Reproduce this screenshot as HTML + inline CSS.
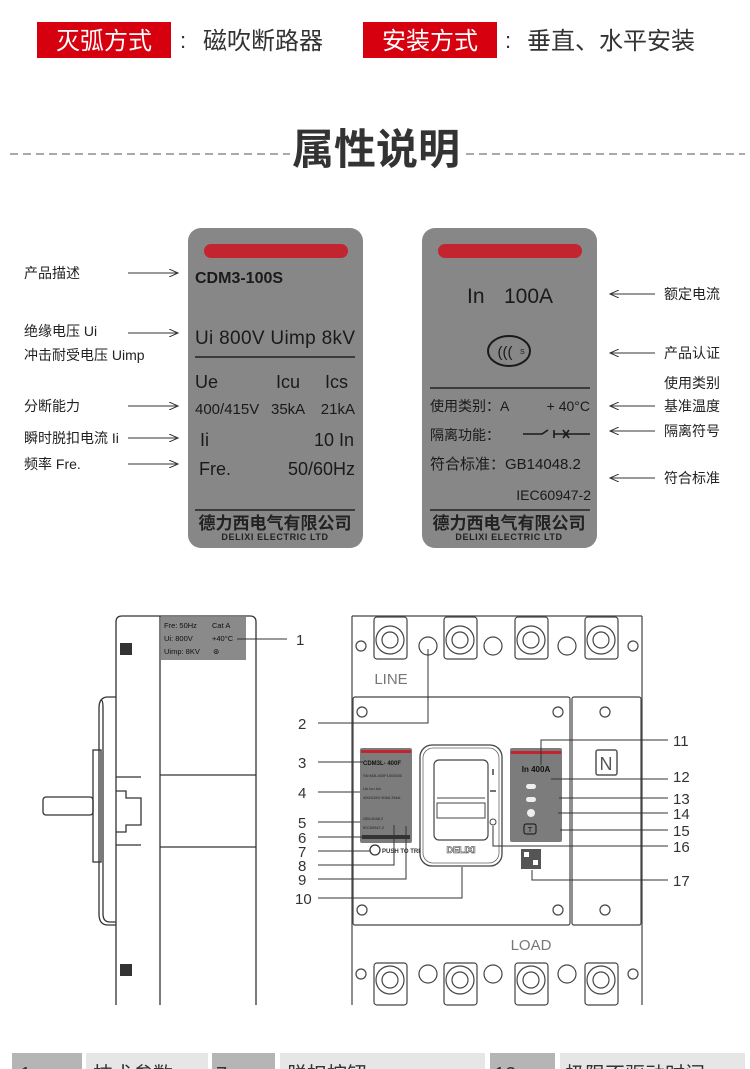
<!DOCTYPE html>
<html><head><meta charset="utf-8"><style>
html,body{margin:0;padding:0;background:#fff;}
body{width:750px;height:1069px;overflow:hidden;position:relative;font-family:"Liberation Sans","Noto Sans CJK SC",sans-serif;}
svg{position:absolute;left:0;top:0;}
text{font-family:"Liberation Sans","Noto Sans CJK SC",sans-serif;}
</style></head><body>
<svg width="750" height="1069" viewBox="0 0 750 1069" xmlns="http://www.w3.org/2000/svg">
<defs>
<marker id="ar" markerWidth="10" markerHeight="8" refX="9" refY="4" orient="auto" markerUnits="userSpaceOnUse"><path d="M0,0 L9,4 L0,8" fill="none" stroke="#333" stroke-width="1"/></marker>
</defs>
<!-- header -->
<rect x="37" y="22" width="134" height="36" fill="#d7000f"/>
<text x="104" y="49" font-size="24" fill="#fff" text-anchor="middle">灭弧方式</text>
<text x="180" y="48" font-size="22" fill="#333">:</text>
<text x="203" y="49" font-size="24" fill="#333">磁吹断路器</text>
<rect x="363" y="22" width="134" height="36" fill="#d7000f"/>
<text x="430" y="49" font-size="24" fill="#fff" text-anchor="middle">安装方式</text>
<text x="505" y="48" font-size="22" fill="#333">:</text>
<text x="527" y="49" font-size="24" fill="#333">垂直、水平安装</text>
<line x1="10" y1="154" x2="290" y2="154" stroke="#aaa" stroke-width="2" stroke-dasharray="8,5"/>
<line x1="466" y1="154" x2="745" y2="154" stroke="#aaa" stroke-width="2" stroke-dasharray="8,5"/>
<text x="376" y="164" font-size="42" font-weight="bold" fill="#333" text-anchor="middle">属性说明</text>

<!-- left panel -->
<rect x="188" y="228" width="175" height="320" rx="13" fill="#878787"/>
<rect x="204" y="244" width="144" height="14" rx="7" fill="#c22430"/>
<text x="195" y="283" font-size="16" font-weight="bold" fill="#1a1a1a">CDM3-100S</text>
<text x="195" y="344" font-size="19" fill="#1a1a1a" textLength="160">Ui 800V Uimp 8kV</text>
<line x1="195" y1="357" x2="355" y2="357" stroke="#222" stroke-width="1.5"/>
<text x="195" y="388" font-size="18" fill="#1a1a1a">Ue</text>
<text x="276" y="388" font-size="18" fill="#1a1a1a">Icu</text>
<text x="325" y="388" font-size="18" fill="#1a1a1a">Ics</text>
<text x="195" y="414" font-size="15" fill="#1a1a1a">400/415V</text>
<text x="271" y="414" font-size="15" fill="#1a1a1a">35kA</text>
<text x="355" y="414" font-size="15" fill="#1a1a1a" text-anchor="end">21kA</text>
<text x="200" y="446" font-size="18" fill="#1a1a1a">Ii</text>
<text x="354" y="446" font-size="18" fill="#1a1a1a" text-anchor="end">10 In</text>
<text x="199" y="475" font-size="18" fill="#1a1a1a">Fre.</text>
<text x="355" y="475" font-size="18" fill="#1a1a1a" text-anchor="end">50/60Hz</text>
<line x1="195" y1="510" x2="355" y2="510" stroke="#222" stroke-width="1.5"/>
<text x="275" y="529" font-size="17" font-weight="bold" fill="#222" text-anchor="middle">德力西电气有限公司</text>
<text x="275" y="540" font-size="9" font-weight="bold" fill="#222" text-anchor="middle" letter-spacing="0.6">DELIXI ELECTRIC LTD</text>

<!-- right panel -->
<rect x="422" y="228" width="175" height="320" rx="13" fill="#878787"/>
<rect x="438" y="244" width="144" height="14" rx="7" fill="#c22430"/>
<text x="467" y="303" font-size="21" fill="#1a1a1a">In</text>
<text x="504" y="303" font-size="21" fill="#1a1a1a">100A</text>
<ellipse cx="509" cy="351" rx="21" ry="15" fill="none" stroke="#1a1a1a" stroke-width="2"/>
<text x="505" y="357" font-size="15" fill="#1a1a1a" text-anchor="middle">(((</text>
<text x="520" y="354" font-size="7" fill="#1a1a1a">S</text>
<line x1="430" y1="388" x2="590" y2="388" stroke="#222" stroke-width="1.5"/>
<text x="430" y="411" font-size="14" fill="#1a1a1a">使用类别：A</text>
<text x="590" y="411" font-size="14" fill="#1a1a1a" text-anchor="end">+ 40°C</text>
<text x="430" y="440" font-size="14" fill="#1a1a1a">隔离功能：</text>
<path d="M523,434 H542 L548,430 M554,430 V438 M554,434 H590 M563,430 L569,438 M569,430 L563,438" stroke="#1a1a1a" stroke-width="1.6" fill="none"/>
<text x="430" y="469" font-size="15" fill="#1a1a1a">符合标准：GB14048.2</text>
<text x="591" y="500" font-size="14" fill="#1a1a1a" text-anchor="end">IEC60947-2</text>
<line x1="430" y1="510" x2="590" y2="510" stroke="#222" stroke-width="1.5"/>
<text x="509" y="529" font-size="17" font-weight="bold" fill="#222" text-anchor="middle">德力西电气有限公司</text>
<text x="509" y="540" font-size="9" font-weight="bold" fill="#222" text-anchor="middle" letter-spacing="0.6">DELIXI ELECTRIC LTD</text>

<!-- left labels -->
<g font-size="14" fill="#222">
<text x="24" y="278">产品描述</text>
<text x="24" y="336">绝缘电压 Ui</text>
<text x="24" y="360">冲击耐受电压 Uimp</text>
<text x="24" y="411">分断能力</text>
<text x="24" y="443">瞬时脱扣电流 Ii</text>
<text x="24" y="469">频率 Fre.</text>
</g>
<g stroke="#333" stroke-width="1" marker-end="url(#ar)">
<line x1="128" y1="273" x2="178" y2="273"/>
<line x1="128" y1="333" x2="178" y2="333"/>
<line x1="128" y1="406" x2="178" y2="406"/>
<line x1="128" y1="438" x2="178" y2="438"/>
<line x1="128" y1="464" x2="178" y2="464"/>
<line x1="655" y1="294" x2="610" y2="294"/>
<line x1="655" y1="353" x2="610" y2="353"/>
<line x1="655" y1="406" x2="610" y2="406"/>
<line x1="655" y1="431" x2="610" y2="431"/>
<line x1="655" y1="478" x2="610" y2="478"/>
</g>
<g font-size="14" fill="#222">
<text x="664" y="299">额定电流</text>
<text x="664" y="358">产品认证</text>
<text x="664" y="388">使用类别</text>
<text x="664" y="411">基准温度</text>
<text x="664" y="436">隔离符号</text>
<text x="664" y="483">符合标准</text>
</g>

<!-- side view -->
<g stroke="#333" stroke-width="1.3" fill="none">
<path d="M116,1005 V622 Q116,616 122,616 H250 Q256,616 256,622 V1005"/>
<line x1="160" y1="616" x2="160" y2="1005"/>
<line x1="160" y1="775" x2="256" y2="775"/>
<line x1="160" y1="847" x2="256" y2="847"/>
<path d="M116,697 H108 Q99,697 99,708 V914 Q99,925 108,925 H116"/>
<path d="M101,700 Q103,700 103,708 V914 Q103,922 110,922 H116"/>
<rect x="93" y="750" width="8" height="112"/>
<rect x="43" y="797" width="50" height="18" rx="3"/>
<path d="M116,791 H126 V798 H141 V825 H126 V832 H116"/>
<path d="M116,777 H141 M116,845 H141"/>
</g>
<rect x="120" y="643" width="12" height="12" fill="#333"/>
<rect x="120" y="964" width="12" height="12" fill="#333"/>
<rect x="161" y="617" width="85" height="43" fill="#8a8a8a"/>
<g font-size="7.5" fill="#111">
<text x="164" y="628">Fre: 50Hz</text><text x="212" y="628">Cat  A</text>
<text x="164" y="641">Ui: 800V</text><text x="212" y="641">+40°C</text>
<text x="164" y="654">Uimp: 8KV</text><text x="213" y="654">⊛</text>
</g>

<!-- front view body -->
<g stroke="#444" stroke-width="1.2" fill="none">
<path d="M352,616 V1005 M642,616 V1005 M352,616 H642"/>
<rect x="353" y="697" width="217" height="228" rx="2"/>
<rect x="572" y="697" width="69" height="228" rx="2"/>
</g>
<!-- terminals -->
<g stroke="#444" stroke-width="1.2" fill="#fff">
<rect x="374" y="617" width="33" height="42" rx="3"/><circle cx="390" cy="640" r="14"/><circle cx="390" cy="640" r="8"/>
<rect x="444" y="617" width="33" height="42" rx="3"/><circle cx="460" cy="640" r="14"/><circle cx="460" cy="640" r="8"/>
<rect x="515" y="617" width="33" height="42" rx="3"/><circle cx="531" cy="640" r="14"/><circle cx="531" cy="640" r="8"/>
<rect x="585" y="617" width="33" height="42" rx="3"/><circle cx="601" cy="640" r="14"/><circle cx="601" cy="640" r="8"/>
<circle cx="428" cy="646" r="9"/><circle cx="493" cy="646" r="9"/><circle cx="567" cy="646" r="9"/>
<rect x="374" y="963" width="33" height="42" rx="3"/><circle cx="390" cy="980" r="14"/><circle cx="390" cy="980" r="8"/>
<rect x="444" y="963" width="33" height="42" rx="3"/><circle cx="460" cy="980" r="14"/><circle cx="460" cy="980" r="8"/>
<rect x="515" y="963" width="33" height="42" rx="3"/><circle cx="531" cy="980" r="14"/><circle cx="531" cy="980" r="8"/>
<rect x="585" y="963" width="33" height="42" rx="3"/><circle cx="601" cy="980" r="14"/><circle cx="601" cy="980" r="8"/>
<circle cx="428" cy="974" r="9"/><circle cx="493" cy="974" r="9"/><circle cx="567" cy="974" r="9"/>
<circle cx="361" cy="646" r="5"/><circle cx="633" cy="646" r="5"/><circle cx="361" cy="974" r="5"/><circle cx="633" cy="974" r="5"/>
<circle cx="362" cy="712" r="5"/><circle cx="558" cy="712" r="5"/><circle cx="362" cy="910" r="5"/><circle cx="558" cy="910" r="5"/>
<circle cx="605" cy="712" r="5"/><circle cx="605" cy="910" r="5"/>
</g>
<text x="391" y="684" font-size="15" fill="#777" text-anchor="middle">LINE</text>
<text x="531" y="950" font-size="15" fill="#777" text-anchor="middle">LOAD</text>
<rect x="596" y="750" width="21" height="25" rx="2" fill="none" stroke="#555" stroke-width="1.5"/>
<text x="606" y="770" font-size="18" fill="#555" text-anchor="middle">N</text>
<!-- left small label -->
<rect x="360" y="748" width="52" height="95" rx="2" fill="#7c7c7c"/>
<rect x="361" y="750" width="50" height="3" fill="#c22430"/>
<text x="363" y="765" font-size="6" font-weight="bold" fill="#111">CDM3L- 400F</text>
<text x="363" y="777" font-size="4" fill="#222">SN:M3L400F1003000</text>
<text x="363" y="790" font-size="4" fill="#222">Ue   Icu   Ics</text>
<text x="363" y="799" font-size="4" fill="#222">400/415V 50kA 35kA</text>
<text x="363" y="820" font-size="4" fill="#222">GB14048.2</text>
<text x="363" y="829" font-size="4" fill="#222">IEC60947-2</text>
<rect x="362" y="835" width="48" height="4" fill="#333"/>
<circle cx="375" cy="850" r="5" fill="none" stroke="#333" stroke-width="1.3"/>
<text x="382" y="853" font-size="6" font-weight="bold" fill="#333">PUSH TO TRIP</text>
<!-- handle -->
<rect x="420" y="745" width="82" height="121" rx="12" fill="#fff" stroke="#444" stroke-width="1.3"/>
<rect x="423" y="748" width="76" height="115" rx="10" fill="none" stroke="#666" stroke-width="0.8"/>
<rect x="434" y="760" width="54" height="80" rx="5" fill="#fff" stroke="#444" stroke-width="1.2"/>
<line x1="437" y1="798" x2="485" y2="798" stroke="#444"/>
<rect x="437" y="803" width="48" height="15" fill="none" stroke="#444"/>
<line x1="493" y1="769" x2="493" y2="775" stroke="#444" stroke-width="1.5"/>
<line x1="490" y1="791" x2="496" y2="791" stroke="#444" stroke-width="1.5"/>
<circle cx="493" cy="822" r="3" fill="none" stroke="#444"/>
<text x="461" y="853" font-size="9" font-weight="bold" fill="#fff" stroke="#444" stroke-width="0.6" text-anchor="middle">DELIXI</text>
<!-- right small label -->
<rect x="510" y="748" width="52" height="94" rx="2" fill="#7c7c7c"/>
<rect x="511" y="751" width="50" height="3" fill="#c22430"/>
<text x="536" y="772" font-size="8" font-weight="bold" fill="#111" text-anchor="middle">In 400A</text>
<rect x="526" y="784" width="10" height="5" rx="2.5" fill="#eee"/>
<rect x="526" y="797" width="10" height="5" rx="2.5" fill="#eee"/>
<circle cx="531" cy="813" r="4" fill="#eee"/>
<rect x="524" y="824" width="12" height="10" rx="2" fill="none" stroke="#111"/>
<text x="530" y="832" font-size="7" fill="#111" text-anchor="middle">T</text>
<rect x="521" y="849" width="20" height="20" fill="#555"/>
<rect x="524" y="852" width="5" height="5" fill="#fff"/><rect x="533" y="860" width="5" height="5" fill="#fff"/>

<!-- callouts -->
<g stroke="#333" stroke-width="1" fill="none">
<line x1="237" y1="639" x2="287" y2="639"/>
<path d="M318,723 H428 V649"/>
<line x1="318" y1="762" x2="363" y2="762"/>
<line x1="318" y1="792" x2="360" y2="792"/>
<line x1="318" y1="822" x2="360" y2="822"/>
<line x1="318" y1="837" x2="363" y2="837"/>
<line x1="318" y1="851" x2="370" y2="851"/>
<path d="M318,865 H394 V825"/>
<path d="M318,879 H406 V826"/>
<path d="M318,898 H462 V867"/>
<path d="M668,740 H541 V765"/>
<line x1="668" y1="779" x2="551" y2="779"/>
<line x1="668" y1="798" x2="559" y2="798"/>
<line x1="668" y1="813" x2="558" y2="813"/>
<line x1="668" y1="830" x2="560" y2="830"/>
<path d="M668,846 H493 V826"/>
<path d="M668,880 H532 V870"/>
</g>
<g font-size="15" fill="#333">
<text x="296" y="645">1</text>
<text x="298" y="729">2</text>
<text x="298" y="768">3</text>
<text x="298" y="798">4</text>
<text x="298" y="828">5</text>
<text x="298" y="843">6</text>
<text x="298" y="857">7</text>
<text x="298" y="871">8</text>
<text x="298" y="885">9</text>
<text x="295" y="904">10</text>
<text x="673" y="746">11</text>
<text x="673" y="782">12</text>
<text x="673" y="804">13</text>
<text x="673" y="819">14</text>
<text x="673" y="836">15</text>
<text x="673" y="852">16</text>
<text x="673" y="886">17</text>
</g>

<!-- bottom table -->
<rect x="12" y="1053" width="70" height="20" fill="#b5b5b5"/>
<rect x="86" y="1053" width="122" height="20" fill="#e6e6e6"/>
<rect x="212" y="1053" width="63" height="20" fill="#b5b5b5"/>
<rect x="280" y="1053" width="205" height="20" fill="#e6e6e6"/>
<rect x="490" y="1053" width="65" height="20" fill="#b5b5b5"/>
<rect x="560" y="1053" width="185" height="20" fill="#e6e6e6"/>
<g font-size="20" fill="#333">
<text x="20" y="1081">1</text>
<text x="93" y="1081">技术参数</text>
<text x="216" y="1081">7</text>
<text x="287" y="1081">脱扣按钮</text>
<text x="494" y="1081">12</text>
<text x="565" y="1081">极限不驱动时间</text>
</g>
</svg>
</body></html>
